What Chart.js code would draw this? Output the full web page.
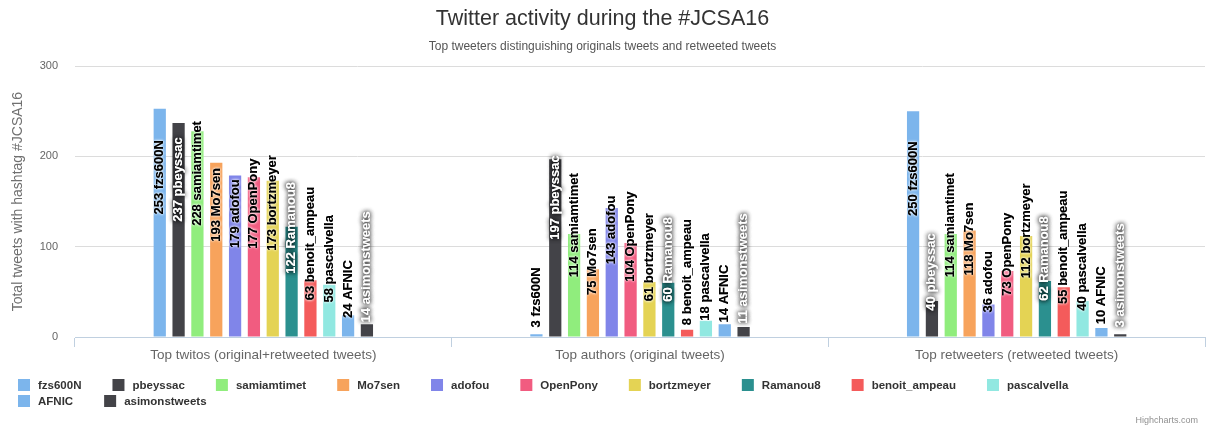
<!DOCTYPE html>
<html>
<head>
<meta charset="utf-8">
<script src="https://cdn.jsdelivr.net/npm/chart.js@4.4.0/dist/chart.umd.min.js"></script>
<style>
  html, body { margin: 0; padding: 0; background: #fff; }
  #wrap { width: 1207px; height: 427px; }
</style>
</head>
<body>
<div id="wrap"><canvas id="grafico"></canvas></div>
<script>
// categorias e series
const categories = ['Top twitos (original+retweeted tweets)', 'Top authors (original tweets)', 'Top retweeters (retweeted tweets)'];
const tweeters = ['fzs600N', 'pbeyssac', 'samiamtimet', 'Mo7sen', 'adofou', 'OpenPony', 'bortzmeyer', 'Ramanou8', 'benoit_ampeau', 'pascalvella', 'AFNIC', 'asimonstweets'];
const totalTweets = [253, 237, 228, 193, 179, 177, 173, 122, 63, 58, 24, 14];
const originalTweets = [3, 197, 114, 75, 143, 104, 61, 60, 8, 18, 14, 11];
const retweetedTweets = [250, 40, 114, 118, 36, 73, 112, 62, 55, 40, 10, 3];
const yTicks = [0, 100, 200, 300];

const colors = ['#7cb5ec', '#434348', '#90ed7d', '#f7a35c', '#8085e9', '#f15c80', '#e4d354', '#2b908f', '#f45b5b', '#91e8e1', '#7cb5ec', '#434348'];
const FONT = '"Liberation Sans", Arial, sans-serif';

const datasets = tweeters.map((name, i) => ({
    label: name,
    data: [totalTweets[i], originalTweets[i], retweetedTweets[i]],
    backgroundColor: colors[i],
    borderWidth: 0,
    barPercentage: 0.65,
    categoryPercentage: 0.6
}));

function isDark(hex) {
    const r = parseInt(hex.substr(1, 2), 16), g = parseInt(hex.substr(3, 2), 16), b = parseInt(hex.substr(5, 2), 16);
    return (r * 299 + g * 587 + b * 114) / 1000 < 128;
}

// etiquetas rotadas nas barras
const rotatedLabels = {
    id: 'rotatedLabels',
    afterDatasetsDraw(chart) {
        const ctx = chart.ctx;
        ctx.save();
        ctx.font = 'bold 13px ' + FONT;
        ctx.textAlign = 'left';
        ctx.textBaseline = 'middle';
        chart.data.datasets.forEach((ds, di) => {
            const meta = chart.getDatasetMeta(di);
            const dark = isDark(ds.backgroundColor);
            meta.data.forEach((bar, j) => {
                const txt = ds.data[j] + ' ' + ds.label;
                const mid = (bar.y + bar.base) / 2;
                ctx.save();
                ctx.translate(bar.x, mid - 8);
                ctx.rotate(-Math.PI / 2);
                ctx.shadowColor = dark ? 'rgba(0,0,0,0.9)' : 'rgba(255,255,255,1)';
                ctx.shadowBlur = dark ? 5 : 3;
                ctx.fillStyle = dark ? '#ffffff' : '#000000';
                ctx.fillText(txt, 0, 0);
                ctx.fillText(txt, 0, 0);
                ctx.restore();
            });
        });
        ctx.restore();
    }
};

// legenda estilo highcharts + credito
const hcLegend = {
    id: 'hcLegend',
    afterDraw(chart) {
        const ctx = chart.ctx;
        ctx.save();
        ctx.font = 'bold 11.5px ' + FONT;
        ctx.textBaseline = 'middle';
        let x = 18, y = 385;
        chart.data.datasets.forEach((ds) => {
            const w = 12 + 8 + ctx.measureText(ds.label).width;
            if (x + w > 1120) { x = 18; y += 16; }
            ctx.fillStyle = ds.backgroundColor;
            ctx.fillRect(x, y - 6, 12, 12);
            ctx.fillStyle = '#333333';
            ctx.fillText(ds.label, x + 20, y + 1);
            x += w + 31;
        });
        ctx.font = '9px ' + FONT;
        ctx.fillStyle = '#909090';
        ctx.textAlign = 'right';
        ctx.fillText('Highcharts.com', 1198, 421);
        ctx.restore();
    }
};

const ctxBar = document.getElementById('grafico').getContext('2d');
const graficoBarras = new Chart(ctxBar, {
    type: 'bar',
    data: { labels: categories, datasets: datasets },
    options: {
        responsive: true,
        maintainAspectRatio: false,
        animation: false,
        layout: { padding: { left: 0, right: 2, top: 0, bottom: 60 } },
        plugins: {
            legend: { display: false },
            tooltip: { enabled: false },
            title: {
                display: true,
                text: 'Twitter activity during the #JCSA16',
                color: '#333333',
                font: { family: FONT, size: 21.5, weight: 'normal' },
                padding: { top: 6, bottom: 8 }
            },
            subtitle: {
                display: true,
                text: 'Top tweeters distinguishing originals tweets and retweeted tweets',
                color: '#555555',
                font: { family: FONT, size: 12, weight: 'normal' },
                padding: { top: 0, bottom: 12 }
            }
        },
        scales: {
            x: {
                grid: { offset: true, drawOnChartArea: false, drawTicks: true, tickLength: 10, color: '#C0D0E0' },
                border: { display: true, color: '#C0D0E0' },
                ticks: { color: '#666666', padding: 0, font: { family: FONT, size: 13.5 } },
                afterFit(scale) { scale.height = 30; }
            },
            y: {
                min: 0,
                max: 300,
                afterBuildTicks(scale) { scale.ticks = yTicks.map(v => ({ value: v })); },
                grid: { color: '#DCDCDC', drawTicks: false },
                border: { display: false },
                ticks: { color: '#666666', padding: 17, font: { family: FONT, size: 11 } },
                title: {
                    display: true,
                    text: 'Total tweets with hashtag #JCSA16',
                    color: '#707070',
                    font: { family: FONT, size: 14, weight: 'normal' },
                    padding: { top: 10, bottom: 0 }
                },
                afterFit(scale) { scale.width = 75; }
            }
        }
    },
    plugins: [rotatedLabels, hcLegend]
});
</script>
</body>
</html>
